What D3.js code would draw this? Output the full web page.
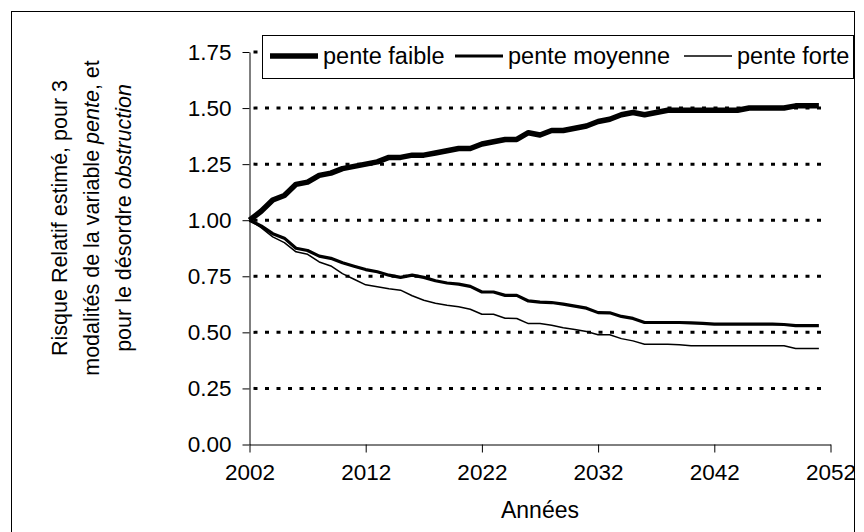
<!DOCTYPE html>
<html>
<head>
<meta charset="utf-8">
<script src="https://cdn.jsdelivr.net/npm/d3@7"></script>
<style>
    body { margin: 0; background: #fff; }
    svg { display: block; font-family: "Liberation Sans", Arial, sans-serif; }
</style>
</head>
<body>
<svg id="chart" width="864" height="532"></svg>
<script>
// annual estimates, 2002 -> 2051
const years = d3.range(2002, 2052);

const penteFaible = [
    1.00, 1.04, 1.09, 1.11, 1.16, 1.17, 1.20, 1.21, 1.23, 1.24,
    1.25, 1.26, 1.28, 1.28, 1.29, 1.29, 1.30, 1.31, 1.32, 1.32,
    1.34, 1.35, 1.36, 1.36, 1.39, 1.38, 1.40, 1.40, 1.41, 1.42,
    1.44, 1.45, 1.47, 1.48, 1.47, 1.48, 1.49, 1.49, 1.49, 1.49,
    1.49, 1.49, 1.49, 1.50, 1.50, 1.50, 1.50, 1.51, 1.51, 1.51
];
const penteMoyenne = [
    1.00, 0.975, 0.94, 0.92, 0.875, 0.865, 0.84, 0.83, 0.81, 0.795,
    0.78, 0.77, 0.755, 0.745, 0.755, 0.745, 0.73, 0.72, 0.715, 0.705,
    0.68, 0.68, 0.665, 0.665, 0.64, 0.635, 0.633, 0.626, 0.617, 0.608,
    0.588, 0.587, 0.571, 0.562, 0.544, 0.544, 0.544, 0.544, 0.542, 0.54,
    0.537, 0.537, 0.537, 0.537, 0.537, 0.537, 0.535, 0.53, 0.53, 0.53
];
const penteForte = [
    1.00, 0.967, 0.926, 0.90, 0.859, 0.848, 0.814, 0.796, 0.762, 0.737,
    0.712, 0.703, 0.694, 0.688, 0.663, 0.643, 0.630, 0.621, 0.614, 0.603,
    0.581, 0.581, 0.563, 0.562, 0.539, 0.539, 0.532, 0.521, 0.513, 0.504,
    0.489, 0.489, 0.472, 0.462, 0.447, 0.447, 0.447, 0.445, 0.44, 0.44,
    0.44, 0.44, 0.44, 0.44, 0.44, 0.44, 0.44, 0.428, 0.428, 0.428
];

const seriesNames = ["pente faible", "pente moyenne", "pente forte"];
const xTicks = [2002, 2012, 2022, 2032, 2042, 2052];
const yTicks = [0, 0.25, 0.5, 0.75, 1, 1.25, 1.5, 1.75];

var svg = d3.select("#chart");

// outer frame
svg.append("rect")
    .attr("x", 11.5)
    .attr("y", 11.5)
    .attr("width", 843)
    .attr("height", 600)
    .attr("fill", "none")
    .attr("stroke", "#000")
    .attr("stroke-width", 1);

var x = d3.scaleLinear().domain([2002, 2052]).range([249.5, 830.5]);
var y = d3.scaleLinear().domain([0, 1.75]).range([444.5, 52]);

var widths = [5.5, 3.2, 1.5];

//////////////////////////////////////// grid /////////////////////////

svg.append("g")
    .selectAll("line")
    .data(yTicks.filter(d => d > 0))
    .enter()
    .append("line")
    .attr("x1", x(2002) + 4)
    .attr("x2", x(2052) - 3)
    .attr("y1", d => y(d))
    .attr("y2", d => y(d))
    .attr("stroke", "#000")
    .attr("stroke-width", 3)
    .attr("stroke-dasharray", "4,7.5");

//////////////////////////////////////// axes /////////////////////////

var xAxis = svg.append("g")
    .attr("transform", "translate(0," + y(0) + ")")
    .call(d3.axisBottom(x).tickValues(xTicks).tickFormat(d3.format("d")).tickSize(8).tickSizeOuter(0).tickPadding(12));

var yAxis = svg.append("g")
    .attr("transform", "translate(" + x(2002) + ",0)")
    .call(d3.axisLeft(y).tickValues(yTicks).tickFormat(d3.format(".2f")).tickSize(7).tickSizeOuter(0).tickPadding(11));

[xAxis, yAxis].forEach(a => {
    a.selectAll("text").attr("font-size", 22.5).attr("font-family", "Liberation Sans, Arial, sans-serif").attr("fill", "#000");
    a.selectAll("line, path").attr("stroke", "#000");
});

svg.append("text")
    .attr("x", (x(2002) + x(2052)) / 2)
    .attr("y", 518)
    .attr("text-anchor", "middle")
    .attr("font-size", 23)
    .text("Années");

// y title, three lines with italic words
var titleLines = [
    [["Risque Relatif estimé,  pour 3", false]],
    [["modalités de la variable ", false], ["pente", true], [",  et", false]],
    [["pour le désordre ", false], ["obstruction", true]]
];
var titleX = [67, 99, 131];

titleLines.forEach((parts, i) => {
    var t = svg.append("text")
        .attr("transform", "translate(" + titleX[i] + ",218) rotate(-90)")
        .attr("text-anchor", "middle")
        .attr("font-size", 21.5);
    parts.forEach(p => {
        t.append("tspan")
            .attr("font-style", p[1] ? "italic" : "normal")
            .text(p[0]);
    });
});

//////////////////////////////////////// lines /////////////////////////

var line = d3.line()
    .x(d => x(d.year))
    .y(d => y(d.val));

[penteFaible, penteMoyenne, penteForte].forEach((vals, i) => {
    svg.append("path")
        .datum(years.map((yr, j) => ({ year: yr, val: vals[j] })))
        .attr("fill", "none")
        .attr("stroke", "#000")
        .attr("stroke-width", widths[i])
        .attr("stroke-linejoin", "round")
        .attr("d", line);
});

//////////////////////////////////////// legend /////////////////////////

var legend = svg.append("g");

legend.append("rect")
    .attr("x", 262.5)
    .attr("y", 35.5)
    .attr("width", 591)
    .attr("height", 43)
    .attr("fill", "#fff")
    .attr("stroke", "#000")
    .attr("stroke-width", 1);

var legendX = [270, 455, 684];

seriesNames.forEach((name, i) => {
    legend.append("line")
        .attr("x1", legendX[i])
        .attr("x2", legendX[i] + 48)
        .attr("y1", 56)
        .attr("y2", 56)
        .attr("stroke", "#000")
        .attr("stroke-width", widths[i]);
    legend.append("text")
        .attr("x", legendX[i] + 53)
        .attr("y", 64)
        .attr("font-size", 23.5)
        .text(name);
});
</script>
</body>
</html>
